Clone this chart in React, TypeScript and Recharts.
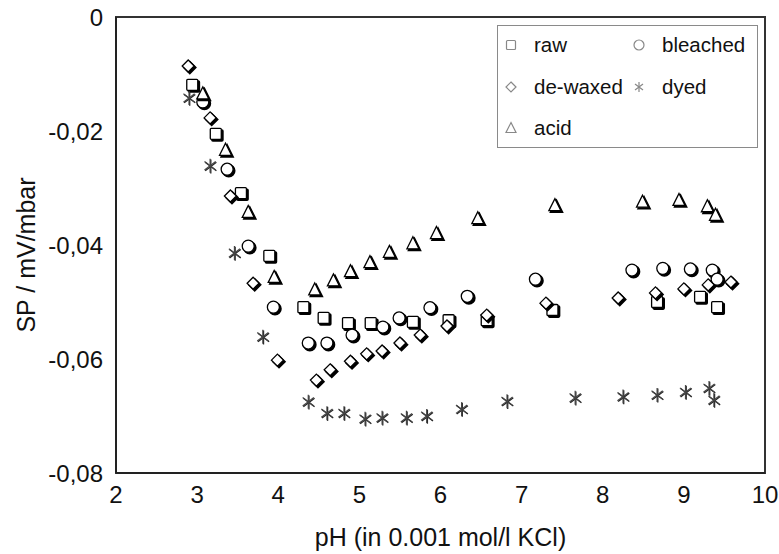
import React from 'react';
import { ScatterChart, Scatter, XAxis, YAxis, CartesianGrid, ReferenceArea } from 'recharts';

const rawData = [
  [2.94, -0.0119], [3.23, -0.0205], [3.54, -0.0309], [3.89, -0.0419], [4.31, -0.0509],
  [4.56, -0.0528], [4.86, -0.0537], [5.14, -0.0537], [5.66, -0.0535], [6.10, -0.0532],
  [6.57, -0.0532], [7.38, -0.0514], [8.67, -0.0500], [9.20, -0.0491], [9.41, -0.0509],
];
const bleachedData = [
  [3.07, -0.0149], [3.37, -0.0267], [3.63, -0.0402], [3.94, -0.0509], [4.37, -0.0572],
  [4.60, -0.0572], [4.91, -0.0558], [5.29, -0.0544], [5.49, -0.0528], [5.87, -0.0510],
  [6.33, -0.0490], [7.17, -0.0460], [8.36, -0.0444], [8.74, -0.0441], [9.08, -0.0442],
  [9.35, -0.0444], [9.41, -0.0460],
];
const dewaxedData = [
  [2.89, -0.0086], [3.16, -0.0177], [3.41, -0.0314], [3.69, -0.0467], [3.99, -0.0602],
  [4.47, -0.0637], [4.64, -0.0619], [4.89, -0.0604], [5.09, -0.0591], [5.28, -0.0586],
  [5.50, -0.0572], [5.75, -0.0558], [6.08, -0.0542], [6.57, -0.0523], [7.30, -0.0502],
  [8.19, -0.0493], [8.65, -0.0484], [9.00, -0.0477], [9.30, -0.0470], [9.58, -0.0465],
];
const acidData = [
  [3.07, -0.0134], [3.35, -0.0233], [3.63, -0.0342], [3.95, -0.0456], [4.45, -0.0478],
  [4.68, -0.0462], [4.89, -0.0446], [5.13, -0.0430], [5.37, -0.0412], [5.66, -0.0397],
  [5.95, -0.0379], [6.46, -0.0353], [7.41, -0.0330], [8.49, -0.0324], [8.94, -0.0321],
  [9.29, -0.0332], [9.39, -0.0347],
];
const dyedData = [
  [2.90, -0.0142], [3.16, -0.0261], [3.46, -0.0414], [3.81, -0.0561], [4.37, -0.0675],
  [4.60, -0.0695], [4.81, -0.0695], [5.07, -0.0705], [5.28, -0.0703], [5.58, -0.0703],
  [5.83, -0.0700], [6.26, -0.0688], [6.82, -0.0674], [7.66, -0.0668], [8.25, -0.0666],
  [8.67, -0.0663], [9.02, -0.0658], [9.31, -0.0651], [9.37, -0.0672],
];

const xTicks = [2, 3, 4, 5, 6, 7, 8, 9, 10];
const yTicks = [0, -0.02, -0.04, -0.06, -0.08];

const toPts = (arr: number[][]) => arr.map(([x, y]) => ({ x, y }));

type Kind = 'square' | 'circle' | 'diamond' | 'triangle' | 'star';

function glyph(kind: Kind, cx: number, cy: number, s: number, stroke: string, fill: string, sw: number, key?: string) {
  const h = s / 2;
  switch (kind) {
    case 'square':
      return <rect key={key} x={cx - h} y={cy - h} width={s} height={s} rx={1} fill={fill} stroke={stroke} strokeWidth={sw} />;
    case 'circle':
      return <circle key={key} cx={cx} cy={cy} r={h + 0.5} fill={fill} stroke={stroke} strokeWidth={sw} />;
    case 'diamond':
      return <polygon key={key} points={`${cx},${cy - h - 0.5} ${cx + h + 0.5},${cy} ${cx},${cy + h + 0.5} ${cx - h - 0.5},${cy}`} fill={fill} stroke={stroke} strokeWidth={sw} />;
    case 'triangle':
      return <polygon key={key} points={`${cx},${cy - h - 1} ${cx + h + 0.5},${cy + h} ${cx - h - 0.5},${cy + h}`} fill={fill} stroke={stroke} strokeWidth={sw} />;
    case 'star': {
      const r = h + 0.5;
      const dx = r * 0.8;
      const dy = r * 0.6;
      return (
        <g key={key}>
          <line x1={cx} y1={cy - r} x2={cx} y2={cy + r} stroke={stroke} strokeWidth={sw} />
          <line x1={cx - dx} y1={cy - dy} x2={cx + dx} y2={cy + dy} stroke={stroke} strokeWidth={sw} />
          <line x1={cx - dx} y1={cy + dy} x2={cx + dx} y2={cy - dy} stroke={stroke} strokeWidth={sw} />
        </g>
      );
    }
  }
}

const makeShape = (kind: Kind) => (props: any) => {
  const { cx, cy } = props;
  if (cx == null || cy == null) return <g />;
  if (kind === 'star') {
    return (
      <g>
        {glyph('star', cx + 0.7, cy + 0.7, 13, '#222', 'none', 1.3, 'a')}
        {glyph('star', cx, cy, 13, '#444', 'none', 1.2, 'b')}
      </g>
    );
  }
  return (
    <g>
      {glyph(kind, cx + 1.6, cy + 1.6, 11, '#000', '#000', 1.6, 'a')}
      {glyph(kind, cx, cy, 11, '#000', '#fff', 1.3, 'b')}
    </g>
  );
};

const series: { name: string; kind: Kind; data: number[][] }[] = [
  { name: 'raw', kind: 'square', data: rawData },
  { name: 'bleached', kind: 'circle', data: bleachedData },
  { name: 'de-waxed', kind: 'diamond', data: dewaxedData },
  { name: 'dyed', kind: 'star', data: dyedData },
  { name: 'acid', kind: 'triangle', data: acidData },
];

const legendOrder = ['raw', 'bleached', 'de-waxed', 'dyed', 'acid'];

const LegendBox = () => (
  <div
    style={{
      position: 'absolute',
      left: 497,
      top: 25,
      width: 261,
      height: 123,
      border: '1.5px solid #8a8a8a',
      background: '#fff',
      boxSizing: 'border-box',
      fontFamily: '"Liberation Sans", Arial, sans-serif',
      fontSize: 20.5,
      color: '#111',
    }}
  >
    {legendOrder.map((name, i) => {
      const s = series.find((q) => q.name === name)!;
      const col = i % 2;
      const row = Math.floor(i / 2);
      const left = col === 0 ? 4 : 132;
      const top = 7 + row * 41.5;
      return (
        <div key={name} style={{ position: 'absolute', left, top, display: 'flex', alignItems: 'center', height: 24, lineHeight: '24px' }}>
          <svg width={18} height={18} style={{ marginRight: 14 }}>
            {glyph(s.kind, 9, 9, 9, '#888', s.kind === 'star' ? 'none' : '#fff', 1.2)}
          </svg>
          <span>{name}</span>
        </div>
      );
    })}
  </div>
);

const YLabel = (props: any) => {
  const vb = props.viewBox || {};
  const x = (vb.x ?? 0) + 26;
  const y = (vb.y ?? 0) + (vb.height ?? 0) / 2 + 10;
  return (
    <text x={x} y={y} transform={`rotate(-90, ${x}, ${y})`} textAnchor="middle" dominantBaseline="central"
      fontSize={25} fill="#111" fontFamily='"Liberation Sans", Arial, sans-serif'>
      SP / mV/mbar
    </text>
  );
};

export default function App() {
  const font = '"Liberation Sans", Arial, sans-serif';
  return (
    <div style={{ position: 'absolute', left: 0, top: 0, width: 779, height: 554, background: '#fff' }}>
      <ScatterChart width={779} height={554} margin={{ top: 17, right: 14, bottom: 0, left: 0 }}>
        <CartesianGrid stroke="#c8c8c8" strokeDasharray="2 2" />
        <XAxis
          xAxisId="b"
          type="number"
          dataKey="x"
          domain={[2, 10]}
          ticks={xTicks}
          interval={0}
          tickLine={false}
          tickSize={0}
          tickMargin={13}
          axisLine={{ stroke: '#222', strokeWidth: 2 }}
          height={81}
          tick={{ fontSize: 24, fill: '#111', fontFamily: font }}
          label={{ value: 'pH (in 0.001 mol/l KCl)', position: 'insideBottom', offset: 8, fontSize: 25, fill: '#111', fontFamily: font }}
        />
        <YAxis
          yAxisId="l"
          type="number"
          dataKey="y"
          domain={[-0.08, 0]}
          ticks={yTicks}
          interval={0}
          tickLine={false}
          tickSize={0}
          tickMargin={13}
          width={116}
          axisLine={{ stroke: '#222', strokeWidth: 2 }}
          tick={{ fontSize: 24, fill: '#111', fontFamily: font }}
          tickFormatter={(v: number) => (v === 0 ? '0' : v.toFixed(2).replace('.', ','))}
          label={<YLabel />}
        />
        <ReferenceArea xAxisId="b" yAxisId="l" x1={2} x2={10} y1={-0.08} y2={0} fill="none" fillOpacity={0}
          stroke="#333" strokeWidth={2} ifOverflow="visible" />
        {series.map((s) => (
          <Scatter
            key={s.name}
            name={s.name}
            xAxisId="b"
            yAxisId="l"
            data={toPts(s.data)}
            shape={makeShape(s.kind)}
            isAnimationActive={false}
          />
        ))}
      </ScatterChart>
      <LegendBox />
    </div>
  );
}
